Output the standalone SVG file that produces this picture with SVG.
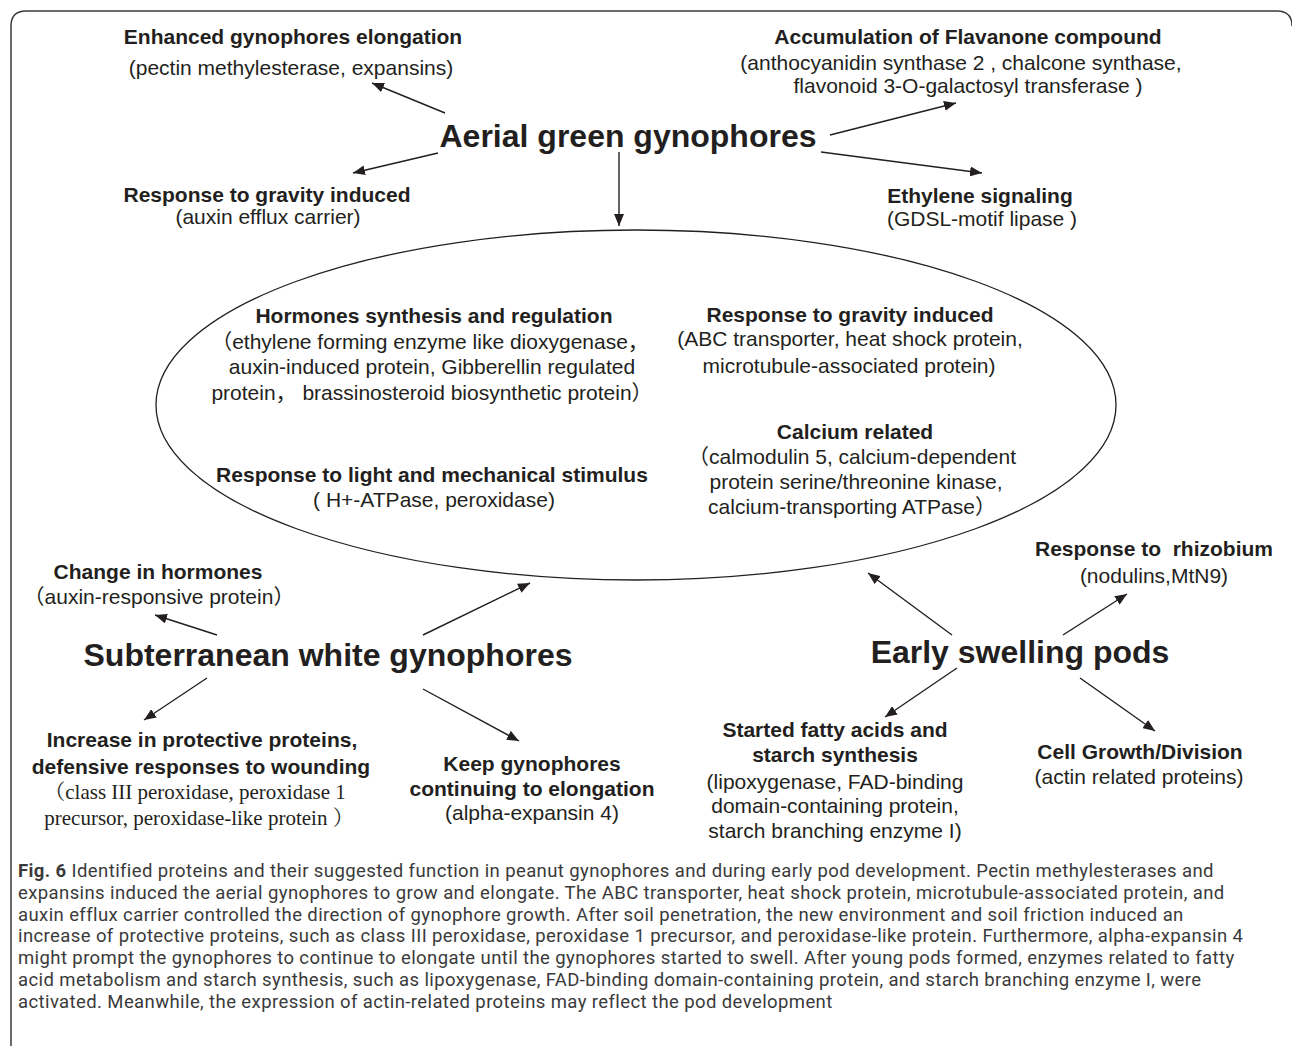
<svg xmlns="http://www.w3.org/2000/svg" width="1292" height="1046" viewBox="0 0 1292 1046">
<style>
text{font-family:"Liberation Sans","Noto Sans CJK SC",sans-serif;fill:#231f20;text-anchor:middle}
.b{font-weight:bold;font-size:21px}
.r{font-size:21px}
.t{font-weight:bold;font-size:32px}
.s{font-family:"Liberation Serif","Noto Serif CJK SC","Noto Sans CJK SC",serif;font-size:21px}
.cap{font-family:Roboto,"Liberation Sans",sans-serif;font-size:18.5px;letter-spacing:0.4px;fill:#3a3a3a;text-anchor:start}
.ln{stroke:#231f20;stroke-width:1.4;fill:none;marker-end:url(#ah)}
</style>
<defs>
<marker id="ah" viewBox="0 0 12 10" refX="12" refY="5" markerWidth="12" markerHeight="10" markerUnits="userSpaceOnUse" orient="auto"><path d="M0,0 L12,5 L0,10 z" fill="#231f20"/></marker>
</defs>
<rect width="1292" height="1046" fill="#fff"/>
<path d="M11,1046 V26 Q11,11 26,11 H1277 Q1292,11 1292,26" fill="none" stroke="#3a3a3a" stroke-width="1.5"/>

<g id="aerial"><text class="t" x="628" y="147">Aerial green gynophores</text></g>
<g id="enhanced"><text class="b" x="293" y="44">Enhanced gynophores elongation</text><text class="r" x="291" y="75">(pectin methylesterase, expansins)</text></g>
<g id="flavanone"><text class="b" x="968" y="44">Accumulation of Flavanone compound</text><text class="r" x="961" y="70">(anthocyanidin synthase 2 , chalcone synthase,</text><text class="r" x="968" y="93">flavonoid 3-O-galactosyl transferase )</text></g>
<g id="gravity-top"><text class="b" x="267" y="202">Response to gravity induced</text><text class="r" x="268" y="224">(auxin efflux carrier)</text></g>
<g id="ethylene"><text class="b" x="980" y="203">Ethylene signaling</text><text class="r" x="982" y="226">(GDSL-motif lipase )</text></g>

<g id="ellipse-node">
<ellipse cx="636" cy="405" rx="480" ry="175" fill="none" stroke="#231f20" stroke-width="1.3"/>
<text class="b" x="434" y="323">Hormones synthesis and regulation</text>
<text class="r" x="430" y="349">（ethylene forming enzyme like dioxygenase，</text>
<text class="r" x="432" y="374">auxin-induced protein, Gibberellin regulated</text>
<text class="r" x="432" y="400">protein， brassinosteroid biosynthetic protein）</text>
<text class="b" x="432" y="482">Response to light and mechanical stimulus</text>
<text class="r" x="434" y="507">( H+-ATPase, peroxidase)</text>
<text class="b" x="850" y="322">Response to gravity induced</text>
<text class="r" x="850" y="346">(ABC transporter, heat shock protein,</text>
<text class="r" x="849" y="373">microtubule-associated protein)</text>
<text class="b" x="855" y="439">Calcium related</text>
<text class="r" x="852" y="464">（calmodulin 5, calcium-dependent</text>
<text class="r" x="856" y="489">protein serine/threonine kinase,</text>
<text class="r" x="852" y="514">calcium-transporting ATPase）</text>
</g>

<g id="subterranean"><text class="t" x="328" y="666">Subterranean white gynophores</text></g>
<g id="hormones-change"><text class="b" x="158" y="579">Change in hormones</text><text class="r" x="159" y="604">（auxin-responsive protein）</text></g>
<g id="protective"><text class="b" x="202" y="747">Increase in protective proteins,</text><text class="b" x="201" y="774">defensive responses to wounding</text><text class="s" x="195" y="799">（class III peroxidase, peroxidase 1</text><text class="s" x="199" y="825">precursor, peroxidase-like protein ）</text></g>
<g id="keep"><text class="b" x="532" y="771">Keep gynophores</text><text class="b" x="532" y="796">continuing to elongation</text><text class="r" x="532" y="820">(alpha-expansin 4)</text></g>

<g id="pods"><text class="t" x="1020" y="663">Early swelling pods</text></g>
<g id="rhizobium"><text class="b" x="1154" y="556" xml:space="preserve">Response to  rhizobium</text><text class="r" x="1154" y="583">(nodulins,MtN9)</text></g>
<g id="fatty"><text class="b" x="835" y="737">Started fatty acids and</text><text class="b" x="835" y="762">starch synthesis</text><text class="r" x="835" y="789">(lipoxygenase, FAD-binding</text><text class="r" x="835" y="813">domain-containing protein,</text><text class="r" x="835" y="838">starch branching enzyme I)</text></g>
<g id="cell"><text class="b" x="1140" y="759">Cell Growth/Division</text><text class="r" x="1139" y="784">(actin related proteins)</text></g>

<g id="connectors">
<line class="ln" x1="445" y1="113" x2="372" y2="83"/>
<line class="ln" x1="438" y1="153" x2="353" y2="173"/>
<line class="ln" x1="619" y1="152" x2="619" y2="226"/>
<line class="ln" x1="830" y1="135" x2="956" y2="103"/>
<line class="ln" x1="821" y1="152" x2="982" y2="173"/>
<line class="ln" x1="217" y1="635" x2="155" y2="615"/>
<line class="ln" x1="423" y1="635" x2="530" y2="583"/>
<line class="ln" x1="207" y1="678" x2="144" y2="720"/>
<line class="ln" x1="423" y1="689" x2="519" y2="741"/>
<line class="ln" x1="952" y1="635" x2="868" y2="573"/>
<line class="ln" x1="1063" y1="635" x2="1127" y2="594"/>
<line class="ln" x1="957" y1="668" x2="885" y2="717"/>
<line class="ln" x1="1080" y1="678" x2="1155" y2="731"/>
</g>

<g id="caption">
<text class="cap" x="18" y="877"><tspan font-weight="bold">Fig. 6</tspan> Identified proteins and their suggested function in peanut gynophores and during early pod development. Pectin methylesterases and</text>
<text class="cap" x="18" y="898.8">expansins induced the aerial gynophores to grow and elongate. The ABC transporter, heat shock protein, microtubule-associated protein, and</text>
<text class="cap" x="18" y="920.6">auxin efflux carrier controlled the direction of gynophore growth. After soil penetration, the new environment and soil friction induced an</text>
<text class="cap" x="18" y="942.4">increase of protective proteins, such as class III peroxidase, peroxidase 1 precursor, and peroxidase-like protein. Furthermore, alpha-expansin 4</text>
<text class="cap" x="18" y="964.2">might prompt the gynophores to continue to elongate until the gynophores started to swell. After young pods formed, enzymes related to fatty</text>
<text class="cap" x="18" y="986">acid metabolism and starch synthesis, such as lipoxygenase, FAD-binding domain-containing protein, and starch branching enzyme I, were</text>
<text class="cap" x="18" y="1007.8">activated. Meanwhile, the expression of actin-related proteins may reflect the pod development</text>
</g>
</svg>
